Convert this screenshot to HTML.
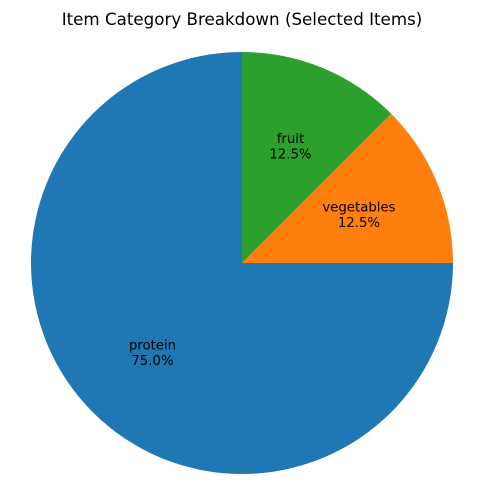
<!DOCTYPE html>
<html><head><meta charset="utf-8">
<style>
html,body{margin:0;padding:0;background:#fff;}
svg{display:block;font-family:"DejaVu Sans","Liberation Sans",sans-serif;}
</style></head>
<body>
<svg id="chart" width="484" height="504" viewBox="0 0 484 504">
<text x="242" y="25" text-anchor="middle" font-size="16.7" fill="#000">Item Category Breakdown (Selected Items)</text>
<g id="slices"></g>
<g id="labels"></g>
</svg>
<script>
const categories = ["protein", "vegetables", "fruit"];
const values = [75, 12.5, 12.5];
const colors = ["#1f77b4", "#ff7f0e", "#2ca02c"];

const cx = 242, cy = 263, r = 211;
const ns = "http://www.w3.org/2000/svg";
const total = values.reduce((a, b) => a + b, 0);
const slicesG = document.getElementById("slices");
const labelsG = document.getElementById("labels");
function pt(deg, rad) {
  const a = deg * Math.PI / 180;
  return [cx + rad * Math.cos(a), cy - rad * Math.sin(a)];
}
let start = 90;
categories.forEach((cat, i) => {
  const sweep = values[i] / total * 360;
  const end = start + sweep;
  const [x1, y1] = pt(start, r);
  const [x2, y2] = pt(end, r);
  const large = sweep > 180 ? 1 : 0;
  const path = document.createElementNS(ns, "path");
  path.setAttribute("d", `M${cx},${cy} L${x1},${y1} A${r},${r} 0 ${large} 0 ${x2},${y2} Z`);
  path.setAttribute("fill", colors[i]);
  
  
  slicesG.appendChild(path);

  const mid = start + sweep / 2;
  const [lx, ly] = pt(mid, r * 0.6);
  const t = document.createElementNS(ns, "text");
  t.setAttribute("x", lx);
  t.setAttribute("y", ly - 3);
  t.setAttribute("text-anchor", "middle");
  t.setAttribute("font-size", "13.3");
  
  
  const s1 = document.createElementNS(ns, "tspan");
  s1.setAttribute("x", lx);
  s1.textContent = cat;
  const s2 = document.createElementNS(ns, "tspan");
  s2.setAttribute("x", lx);
  s2.setAttribute("dy", "15.3");
  s2.textContent = (values[i] / total * 100).toFixed(1) + "%";
  t.appendChild(s1); t.appendChild(s2);
  labelsG.appendChild(t);
  start = end;
});
</script>
</body></html>
